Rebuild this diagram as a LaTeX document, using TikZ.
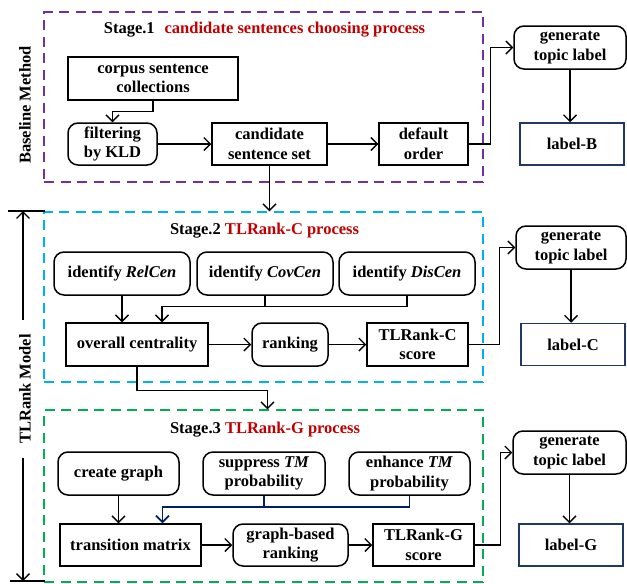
\documentclass[tikz,border=0pt]{standalone}
\usepackage{fontspec}
\setmainfont{Liberation Serif}
\usetikzlibrary{arrows.meta}

\definecolor{stagepurple}{RGB}{112,48,160}
\definecolor{stagecyan}{RGB}{0,176,240}
\definecolor{stagegreen}{RGB}{0,176,80}
\definecolor{titlered}{RGB}{192,0,0}
\definecolor{labelnavy}{RGB}{31,56,100}
\definecolor{linknavy}{RGB}{0,32,96}

\begin{document}
\begin{tikzpicture}[x=1pt, y=-1pt,
    font=\fontsize{16.5}{19.5}\selectfont\bfseries,
    every node/.style={align=center, inner sep=2pt},
    stagebox/.style={draw, line width=1.5pt, dash pattern=on 10pt off 6.5pt, minimum width=439pt},
    plainbox/.style={draw, rectangle, line width=1.5pt},
    roundbox/.style={draw, rectangle, rounded corners=10pt, line width=1.5pt},
    labelbox/.style={draw=labelnavy, rectangle, line width=1.5pt, minimum width=104pt, minimum height=42pt},
    arr/.style={line width=1.3pt, -{Straight Barb[length=6.5pt,width=13pt]}}
]
\useasboundingbox (0,0) rectangle (627,584);

% Stage boxes
\node[stagebox, draw=stagepurple, minimum height=170pt] (stageone) at (263.5,97) {};
\node[stagebox, draw=stagecyan, minimum height=170pt] (stagetwo) at (263.5,297) {};
\node[stagebox, draw=stagegreen, minimum height=172pt] (stagethree) at (263.5,496) {};

% Titles
\node (titleone) at (264.5,30) {Stage.1\hspace{0.6em}\textcolor{titlered}{candidate sentences choosing process}};
\node (titletwo) at (264.5,231) {Stage.2 \textcolor{titlered}{TLRank-C process}};
\node (titlethree) at (265,430) {Stage.3 \textcolor{titlered}{TLRank-G process}};

% Side labels
\node[rotate=90] (baseline) at (25,105) {Baseline Method};
\node[rotate=90, inner sep=14pt] (tlrank) at (25,389) {TLRank Model};
\coordinate (mtop) at (23,211);
\coordinate (mbot) at (23,581);

% Stage 1 nodes
\node[plainbox, minimum width=170pt, minimum height=43pt] (corpus) at (153,78.5) {corpus sentence\\collections};
\node[roundbox, minimum width=89pt, minimum height=42pt] (filter) at (112.5,144) {filtering\\by KLD};
\node[plainbox, minimum width=115pt, minimum height=42pt] (cand) at (269.5,144) {candidate\\sentence set};
\node[plainbox, minimum width=89pt, minimum height=42pt] (order) at (423.5,144) {default\\order};
\node[roundbox, minimum width=112pt, minimum height=43pt] (genB) at (570,47.5) {generate\\topic label};
\node[labelbox] (labB) at (572,144) {label-B};

% Stage 2 nodes
\node[roundbox, minimum width=136pt, minimum height=43pt] (relcen) at (122,273.5) {identify \textit{RelCen}};
\node[roundbox, minimum width=136pt, minimum height=43pt] (covcen) at (265,273.5) {identify \textit{CovCen}};
\node[roundbox, minimum width=136pt, minimum height=43pt] (discen) at (407,273.5) {identify \textit{DisCen}};
\node[plainbox, minimum width=142pt, minimum height=43pt] (overall) at (137,344.5) {overall centrality};
\node[roundbox, minimum width=76pt, minimum height=43pt] (rank) at (290,344.5) {ranking};
\node[plainbox, minimum width=101pt, minimum height=43pt] (scoreC) at (417.5,344.5) {TLRank-C\\score};
\node[roundbox, minimum width=110pt, minimum height=43pt] (genC) at (571,247.5) {generate\\topic label};
\node[labelbox] (labC) at (573,344.5) {label-C};

% Stage 3 nodes
\node[roundbox, minimum width=121pt, minimum height=43pt] (graph) at (118.5,473.5) {create graph};
\node[roundbox, minimum width=122pt, minimum height=43pt] (suppress) at (264,473.5) {suppress \textit{TM}\\probability};
\node[roundbox, minimum width=121pt, minimum height=43pt] (enhance) at (409.5,473.5) {enhance \textit{TM}\\probability};
\node[plainbox, minimum width=141pt, minimum height=42pt] (trans) at (130.5,545) {transition matrix};
\node[roundbox, minimum width=115pt, minimum height=42pt] (gbrank) at (290.5,545) {graph-based\\ranking};
\node[plainbox, minimum width=101pt, minimum height=42pt] (scoreG) at (423.5,545) {TLRank-G\\score};
\node[roundbox, minimum width=113pt, minimum height=43pt] (genG) at (569.5,452.5) {generate\\topic label};
\node[labelbox] (labG) at (571,545) {label-G};

% Stage 1 links
\draw[arr] (corpus.south) -- ++(0,11) -| (filter.north);
\draw[arr] (filter.east) -- (cand.west);
\draw[arr] (cand.east) -- (order.west);
\draw[arr] (order.east) -- ++(22,0) |- (genB.west);
\draw[arr] (genB.south) -- (genB.south |- labB.north);
\draw[arr] (cand.south) -- (cand.south |- stagetwo.north);

% Stage 2 links
\draw[arr] (relcen.south) -- (relcen.south |- overall.north);
\draw[line width=1.3pt] (covcen.south) -- ++(0,11);
\draw[arr] (discen.south) -- ++(0,11) -| ([xshift=25pt]overall.north);
\draw[arr] (overall.east) -- (rank.west);
\draw[arr] (rank.east) -- (scoreC.west);
\draw[arr] (scoreC.east) -- ++(31,0) |- (genC.west);
\draw[arr] (genC.south) -- (genC.south |- labC.north);
\draw[arr] (overall.south) -- ++(0,24) -| ([xshift=4pt]stagethree.north);

% Stage 3 links
\draw[arr] (graph.south) -- (graph.south |- trans.north);
\draw[linknavy, line width=1.7pt] (suppress.south) -- ++(0,11);
\draw[arr, linknavy, line width=1.7pt] (enhance.south) -- ++(0,11) -| ([xshift=32pt]trans.north);
\draw[arr] (trans.east) -- (gbrank.west);
\draw[arr] (gbrank.east) -- (scoreG.west);
\draw[arr] (scoreG.east) -- ++(26,0) |- (genG.west);
\draw[arr] (genG.south) -- (genG.south |- labG.north);

% TLRank model range
\draw[arr] (tlrank.east -| mtop) -- (mtop);
\draw[arr] (tlrank.west -| mbot) -- (mbot);
\draw[line width=1.3pt] ([xshift=-15pt]mtop) -- ([xshift=22pt]mtop);
\draw[line width=1.3pt] ([xshift=-13pt]mbot) -- ([xshift=22pt]mbot);

\end{tikzpicture}
\end{document}
